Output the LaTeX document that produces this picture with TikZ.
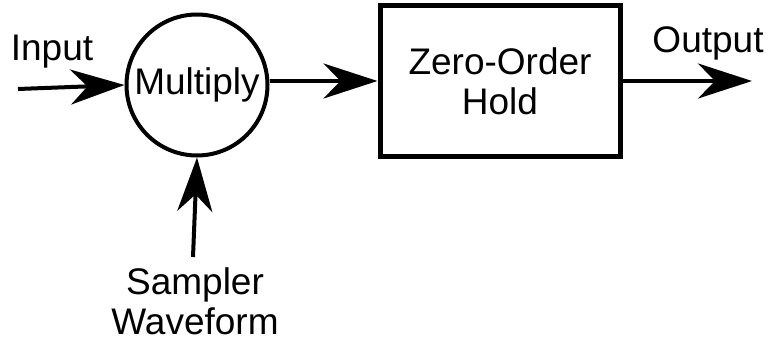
\documentclass[tikz,border=0pt]{standalone}
\usepackage{fontspec}
\setmainfont{Liberation Sans}
\usetikzlibrary{arrows.meta}
\begin{document}
\begin{tikzpicture}[x=1pt, y=-1pt,
  lbl/.style={font=\fontsize{37}{40}\selectfont, inner sep=0pt},
  flow/.style={line width=4pt, -{Stealth[length=54pt, width=35pt, inset=17pt]}},
  mulnode/.style={circle, draw, line width=4pt, minimum size=141pt, inner sep=0pt,
    font=\fontsize{37}{40}\selectfont},
  holdbox/.style={rectangle, draw, line width=5pt, minimum width=240pt,
    minimum height=150pt, inner sep=0pt, align=center,
    font=\fontsize{37}{40}\selectfont}]
  \useasboundingbox (0,0) rectangle (768,342);

  % blocks
  \node[mulnode] (mul) at (197,85) {Multiply};
  \node[holdbox] (zoh) at (500,81) {Zero-Order\\Hold};

  % signal labels
  \node[lbl, anchor=base] (inlbl) at (52,61) {Input};
  \node[lbl, anchor=base] (outlbl) at (708,53) {Output};
  \node[lbl, anchor=north, align=center,
        font=\fontsize{37}{40}\selectfont] (samp) at (195,267) {Sampler\\Waveform};

  % free ends of the connectors
  \coordinate (inA) at (18,89);
  \coordinate (sampA) at (193,257);
  \coordinate (outA) at (752,81);

  % connectors
  \draw[flow] (inA) -- (mul.west);
  \draw[flow] (sampA) -- (mul.south);
  \draw[flow] (mul.east |- zoh.west) -- (zoh.west);
  \draw[flow] (zoh.east) -- (outA);
\end{tikzpicture}
\end{document}
